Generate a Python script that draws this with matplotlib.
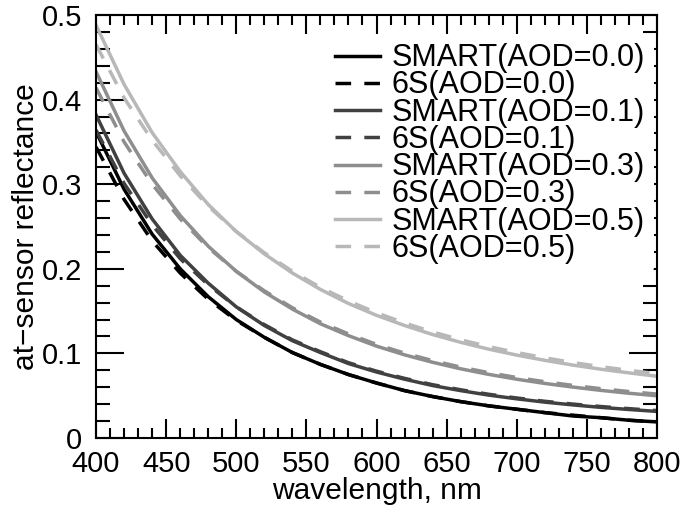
import matplotlib
matplotlib.use("Agg")
import matplotlib.pyplot as plt
from matplotlib.ticker import MultipleLocator

# wavelength grid (nm) and at-sensor reflectance
wl = [400, 420, 440, 460, 480, 500, 520, 540, 560, 580, 600,
      620, 640, 660, 680, 700, 720, 740, 760, 780, 800]

smart_00 = [0.362, 0.294, 0.241, 0.200, 0.167, 0.140, 0.119, 0.101, 0.087, 0.075, 0.065,
            0.056, 0.049, 0.043, 0.038, 0.034, 0.030, 0.026, 0.024, 0.021, 0.019]
s6_00 = [0.344, 0.282, 0.233, 0.195, 0.164, 0.139, 0.119, 0.101, 0.087, 0.075, 0.065,
         0.056, 0.049, 0.043, 0.038, 0.034, 0.030, 0.027, 0.024, 0.021, 0.019]
smart_01 = [0.382, 0.313, 0.259, 0.216, 0.183, 0.155, 0.133, 0.115, 0.101, 0.088, 0.078,
            0.0695, 0.062, 0.056, 0.0507, 0.0463, 0.0424, 0.0391, 0.0362, 0.0337, 0.0314]
s6_01 = [0.364, 0.301, 0.252, 0.212, 0.181, 0.155, 0.134, 0.116, 0.102, 0.089, 0.079,
         0.0705, 0.063, 0.057, 0.0517, 0.0473, 0.0434, 0.0401, 0.0372, 0.0347, 0.0324]
smart_03 = [0.433, 0.363, 0.3075, 0.263, 0.2267, 0.197, 0.1726, 0.1524, 0.135, 0.121, 0.1086,
            0.0983, 0.0895, 0.0818, 0.0752, 0.0695, 0.0645, 0.0602, 0.0563, 0.0529, 0.0499]
s6_03 = [0.414, 0.350, 0.300, 0.259, 0.225, 0.197, 0.174, 0.154, 0.137, 0.123, 0.1106,
         0.1003, 0.0915, 0.0838, 0.0772, 0.0715, 0.0665, 0.0622, 0.0583, 0.0549, 0.0519]
smart_05 = [0.488, 0.418, 0.361, 0.315, 0.276, 0.244, 0.2176, 0.195, 0.1756, 0.159, 0.145,
            0.133, 0.1223, 0.1131, 0.105, 0.098, 0.0918, 0.0862, 0.0813, 0.077, 0.073]
s6_05 = [0.465, 0.402, 0.352, 0.310, 0.274, 0.244, 0.219, 0.197, 0.178, 0.162, 0.148,
         0.136, 0.1253, 0.1161, 0.108, 0.101, 0.0948, 0.0892, 0.0843, 0.080, 0.076]

aods = ["0.0", "0.1", "0.3", "0.5"]
smart = [smart_00, smart_01, smart_03, smart_05]
s6 = [s6_00, s6_01, s6_03, s6_05]
colors = ["#000000", "#414141", "#8e8e8e", "#b8b8b8"]
yticks = [0, 0.1, 0.2, 0.3, 0.4, 0.5]
ylabels = ["0", "0.1", "0.2", "0.3", "0.4", "0.5"]

plt.rcParams["font.family"] = ["Liberation Sans", "DejaVu Sans"]
plt.rcParams["font.size"] = 21

fig = plt.figure(figsize=(6.84, 5.07), dpi=100)
ax = fig.add_axes([0.1404, 0.1361, 0.8201, 0.8343])

for a, sm, s, c in zip(aods, smart, s6, colors):
    ax.plot(wl, sm, color=c, lw=2.5, label=f"SMART(AOD={a})")
    ax.plot(wl, s, color=c, lw=2.5, ls=(0, (4.5, 3.8)), label=f"6S(AOD={a})")

ax.set_xlim(400, 800)
ax.set_ylim(0, 0.5)
ax.xaxis.set_major_locator(MultipleLocator(50))
ax.xaxis.set_minor_locator(MultipleLocator(10))
ax.set_yticks(yticks)
ax.set_yticklabels(ylabels)
ax.yaxis.set_minor_locator(MultipleLocator(0.02))

ax.tick_params(axis="both", which="both", direction="in", top=True, right=True, width=1.5)
ax.tick_params(axis="x", which="major", length=14, pad=9)
ax.tick_params(axis="x", which="minor", length=7)
ax.tick_params(axis="y", which="major", length=20, pad=10)
ax.tick_params(axis="y", which="minor", length=10)
for sp in ax.spines.values():
    sp.set_linewidth(1.5)

ax.set_xlabel("wavelength, nm", fontsize=21.5, labelpad=-1)
ax.set_ylabel("at\u2212sensor reflectance", fontsize=21.5, labelpad=1)

ax.legend(loc="upper right", bbox_to_anchor=(0.995, 0.955), frameon=True, framealpha=1,
          edgecolor="none", handlelength=1.47, handletextpad=0.39, labelspacing=-0.09,
          borderpad=0.3, borderaxespad=0.0, fontsize=22)

fig.savefig("out.png", dpi=100)
